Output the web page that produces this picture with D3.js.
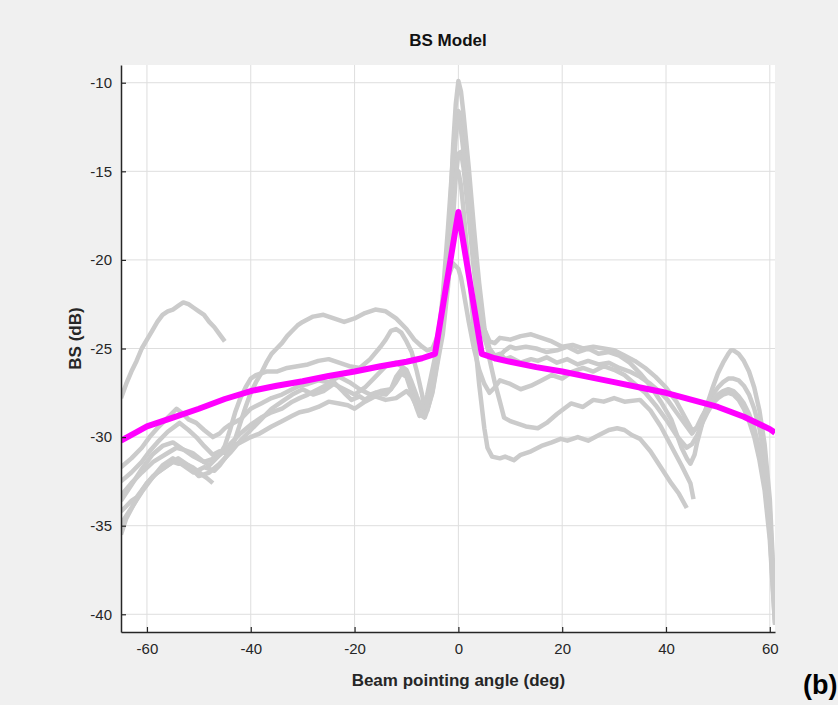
<!DOCTYPE html>
<html>
<head>
<meta charset="utf-8">
<script src="https://cdn.jsdelivr.net/npm/d3@7"></script>
<style>
  html, body { margin: 0; padding: 0; background: #f0f0f0; }
  svg { display: block; }
  .tick text { font-family: "Liberation Sans Narrow", "Liberation Sans", Arial, sans-serif; font-size: 15px; fill: #262626; }
</style>
</head>
<body>
<svg id="chart" width="838" height="705"></svg>
<script>
// ---- chart data -------------------------------------------------------------
const title = "BS Model";
const xLabel = "Beam pointing angle (deg)";
const yLabel = "BS (dB)";
const panelTag = "(b)";

const xTicks = [-60, -40, -20, 0, 20, 40, 60];
const yTicks = [-40, -35, -30, -25, -20, -15, -10];
const xDomain = [-65, 61];
const yDomain = [-41, -9];

// Backscatter model curve (angle in deg, BS in dB)
const modelAngle = [-65, -60, -55, -50, -45, -40, -35, -30, -25, -20, -15, -10, -7, -4.5, 0, 4.5, 7, 10, 15, 20, 25, 30, 35, 40, 45, 50, 55, 60, 61];
const modelBS = [-30.2, -29.4, -28.9, -28.4, -27.85, -27.4, -27.1, -26.85, -26.55, -26.3, -26.0, -25.75, -25.55, -25.3, -17.3, -25.3, -25.55, -25.75, -26.05, -26.3, -26.6, -26.9, -27.2, -27.5, -27.9, -28.3, -28.85, -29.55, -29.75];

// Measured backscatter swaths: [angle, BS]
const swathA = [[-65,-27.8],[-64,-27.0],[-63,-26.3],[-62,-25.7],[-61,-25.0],[-60,-24.5],[-59,-24.0],[-58,-23.5],[-57,-23.1],[-56,-22.9],[-55,-22.8],[-54,-22.6],[-53,-22.4],[-52,-22.5],[-51,-22.7],[-50,-22.9],[-49,-23.1],[-48,-23.5],[-47,-23.8],[-46,-24.2],[-45,-24.6]];

const swathL = [[-65,-34.2],[-64,-33.9],[-63,-33.6],[-62,-33.4],[-61,-33.0],[-60,-32.6],[-58.8,-32.2],[-57,-31.8],[-56,-31.6],[-55,-31.4],[-54,-31.5],[-53,-31.5],[-52,-31.6],[-51.2,-31.7],[-50.3,-31.9],[-49.5,-32.1],[-48.5,-32.3],[-47.3,-32.6]];

const swathB = [[-65,-34.9],[-63,-34.0],[-61,-33.1],[-59,-32.3],[-57,-31.6],[-55,-31.2],[-53,-31.6],[-51,-32.0],[-49,-31.7],[-47,-31.9],[-46,-31.6],[-45,-31.2],[-44,-30.8],[-43,-30.1],[-42,-29.2],[-41,-28.3],[-40,-27.5],[-39,-26.9],[-38,-26.4],[-37,-25.8],[-36,-25.3],[-35,-25.0],[-34,-24.7],[-33,-24.3],[-32,-24.0],[-31,-23.7],[-30,-23.5],[-28,-23.2],[-26,-23.1],[-24,-23.3],[-22,-23.5],[-20,-23.3],[-18,-23.0],[-16,-22.8],[-14,-22.9],[-12,-23.3],[-10,-23.9],[-8.5,-24.5],[-7,-24.9],[-6,-25.1],[-5,-25.0],[-4,-24.3],[-3,-22.5],[-2,-19.5],[-1,-15.5],[-0.5,-13.0],[0,-11.6],[0.5,-11.9],[1,-13.0],[1.5,-14.6],[2,-16.3],[3,-19.8],[4,-22.4],[5,-23.9],[6,-24.6],[7,-24.7],[8,-24.4],[10,-24.5],[12,-24.3],[14,-24.2],[16,-24.4],[18,-24.6],[20,-24.9],[22,-24.8],[24,-25.0],[26,-24.9],[28,-25.0],[30,-25.1],[32,-25.4],[34,-25.7],[36,-26.1],[38,-26.6],[40,-27.2],[42,-28.0],[43.5,-28.8],[45,-29.6],[46,-29.5],[47,-28.9],[48,-28.2],[49,-27.6],[50,-27.2],[51,-26.9],[52,-26.7],[53,-26.7],[54,-26.8],[55,-27.1],[56,-27.6],[57,-28.4],[58,-29.5],[59,-31.3],[60,-34.2],[60.5,-37.0],[61,-40.3]];

const swathC = [[-65,-33.6],[-63,-32.7],[-61,-31.8],[-59,-31.0],[-57,-30.5],[-55,-30.3],[-53,-30.7],[-51,-31.1],[-49,-31.4],[-47,-31.2],[-46,-31.0],[-45,-30.5],[-44,-29.6],[-43,-28.6],[-42,-27.8],[-41,-27.2],[-40,-26.7],[-39,-26.5],[-37,-26.3],[-35,-26.3],[-33,-26.1],[-31,-26.0],[-29,-25.9],[-27,-25.7],[-25,-25.6],[-23,-25.8],[-21,-26.0],[-19,-26.1],[-17,-25.6],[-15,-24.9],[-14,-24.5],[-13,-24.0],[-12,-23.9],[-11,-24.1],[-10,-24.6],[-9,-25.2],[-8,-26.3],[-7,-27.6],[-6.5,-28.4],[-6,-28.5],[-5,-27.5],[-4,-25.8],[-3,-24.2],[-2,-21.5],[-1,-17.5],[-0.5,-15.3],[0,-14.0],[0.5,-13.9],[1,-14.8],[2,-17.6],[3,-20.6],[4,-22.9],[5,-24.4],[6,-25.3],[7,-25.6],[8,-25.4],[9,-25.1],[10,-24.9],[11,-25.0],[13,-24.9],[15,-25.0],[17,-25.2],[19,-25.1],[21,-24.9],[23,-25.2],[25,-25.0],[27,-25.3],[29,-25.2],[31,-25.4],[33,-25.8],[35,-26.4],[37,-27.1],[39,-28.0],[41,-29.0],[42,-29.8],[43,-30.6],[44,-31.2],[44.7,-31.5],[45.5,-31.0],[46,-30.3],[47,-29.2],[48,-28.1],[49,-27.2],[50,-26.4],[51,-25.8],[52,-25.3],[52.5,-25.1],[53,-25.1],[54,-25.3],[55,-25.7],[56,-26.3],[57,-27.2],[58,-28.5],[59,-30.4],[60,-33.5],[60.5,-36.5],[61,-39.8]];

const swathD = [[-65,-31.7],[-63,-31.2],[-61,-30.6],[-59.5,-30.0],[-58,-29.5],[-56,-28.9],[-54.3,-28.4],[-53,-28.7],[-52,-29.0],[-50.5,-29.2],[-49,-29.6],[-47.3,-30.0],[-46,-29.8],[-45,-29.5],[-44,-29.3],[-42,-29.0],[-40,-28.4],[-38,-28.1],[-36,-27.8],[-34,-27.6],[-32,-27.3],[-30.6,-27.1],[-29,-27.0],[-27,-26.8],[-25,-26.9],[-23,-26.6],[-21,-26.9],[-19,-27.3],[-17,-27.6],[-15,-27.4],[-13,-27.3],[-12,-26.6],[-11,-26.2],[-10,-26.4],[-9,-27.2],[-8,-28.1],[-7,-28.6],[-6,-28.3],[-5,-27.0],[-4,-25.2],[-3,-23.0],[-2,-19.8],[-1.4,-16.0],[-1,-13.5],[-0.5,-11.2],[0,-9.9],[0.5,-10.5],[1,-11.8],[1.5,-13.3],[2,-14.8],[2.5,-16.5],[3,-18.2],[3.5,-19.8],[4,-21.3],[5,-23.8],[6,-25.6],[7,-26.9],[8,-28.0],[8.8,-28.9],[10,-29.1],[11,-29.2],[13,-29.4],[15.3,-29.5],[17,-29.2],[19,-28.7],[21.7,-28.1],[24,-28.3],[26,-27.9],[28,-28.0],[30,-27.8],[32,-28.0],[35,-27.9],[37,-28.5],[39,-29.4],[41,-30.5],[43,-31.6],[44.7,-32.6],[45.3,-33.5]];

const swathE = [[-65,-32.5],[-63,-32.0],[-61,-31.4],[-59.5,-30.8],[-58,-30.3],[-56,-29.7],[-53.7,-29.2],[-52,-29.6],[-50.5,-30.0],[-49,-30.5],[-47.3,-31.0],[-46,-30.8],[-45,-30.9],[-44,-30.4],[-42,-29.8],[-40,-29.3],[-38,-28.9],[-36,-28.6],[-34,-28.4],[-32,-28.0],[-30.6,-27.8],[-29,-27.6],[-27,-27.3],[-25,-27.0],[-24,-26.9],[-22,-27.5],[-20.6,-27.9],[-19,-27.7],[-18,-27.9],[-16,-27.5],[-14,-27.6],[-13,-27.3],[-12,-26.9],[-11,-26.4],[-10,-26.6],[-9,-27.5],[-8,-28.4],[-7.5,-28.8],[-7,-28.6],[-6,-27.6],[-5,-26.2],[-4,-24.8],[-3,-22.9],[-2,-21.0],[-1,-20.2],[0,-20.5],[0.5,-21.0],[1,-21.8],[2,-23.5],[3,-25.0],[4,-26.2],[5,-27.0],[6,-27.5],[7,-27.2],[8,-26.8],[10,-27.0],[12,-27.3],[14,-27.1],[16,-26.8],[18,-26.5],[20,-26.7],[22,-26.3],[24,-26.1],[26,-26.3],[28,-26.0],[30,-26.2],[32,-26.5],[34,-27.0],[36,-27.5],[38,-28.2],[40,-29.0],[42,-29.9],[44,-30.6],[45,-30.4],[46,-29.9],[47,-29.2],[48,-28.6],[49,-28.1],[50,-27.8],[51,-27.6],[52,-27.5],[53,-27.6],[54,-27.9],[55,-28.4],[56,-29.1],[57,-30.0],[58,-31.3],[59,-33.0],[60,-35.8],[60.5,-38.2],[61,-40.6]];

const swathF = [[-65,-33.3],[-63,-32.6],[-61,-32.0],[-58.8,-31.4],[-56,-30.9],[-54.3,-30.6],[-53,-30.7],[-51.2,-30.9],[-49.5,-31.3],[-48,-31.6],[-47,-31.3],[-46,-31.0],[-44,-30.6],[-42,-30.3],[-40,-30.0],[-38.3,-29.8],[-36,-29.4],[-34,-29.1],[-32,-28.8],[-30.6,-28.6],[-29,-28.5],[-27,-28.3],[-25,-28.0],[-23,-28.1],[-21.3,-28.2],[-20,-28.4],[-18,-28.0],[-16,-27.7],[-14,-27.9],[-12,-27.8],[-10,-27.4],[-9,-27.7],[-8,-28.3],[-7,-28.8],[-6.5,-28.9],[-6,-28.5],[-5,-27.4],[-4,-25.6],[-3,-23.0],[-2,-19.5],[-1,-16.2],[-0.5,-15.1],[0,-15.0],[0.5,-15.8],[1,-17.2],[2,-20.6],[3,-24.0],[4,-27.0],[5,-29.5],[5.6,-30.6],[6.5,-31.1],[8,-31.2],[9,-31.1],[10.7,-31.3],[12,-31.0],[14,-30.8],[16,-30.5],[18,-30.3],[19.7,-30.1],[21,-30.2],[23,-30.0],[25,-30.2],[27,-29.9],[29,-29.6],[30.6,-29.5],[32,-29.6],[33.5,-29.9],[35,-30.1],[37,-30.8],[39,-31.7],[41,-32.6],[42.5,-33.2],[44,-34.0]];

const swathG = [[-65,-35.5],[-64,-34.6],[-62,-33.5],[-60,-32.6],[-58,-32.0],[-56,-31.6],[-54,-31.2],[-52,-31.6],[-50,-32.2],[-48,-32.0],[-46,-31.5],[-44,-30.9],[-42,-30.2],[-40,-29.6],[-38,-29.0],[-36,-28.4],[-34,-28.0],[-32,-27.6],[-30,-27.3],[-28,-27.6],[-26,-27.4],[-24,-27.0],[-22,-27.3],[-20,-27.6],[-18,-27.2],[-16,-26.6],[-14,-26.0],[-12,-25.8],[-10,-26.2],[-9,-26.9],[-8,-27.7],[-7,-28.4],[-6,-28.2],[-5,-26.8],[-4,-24.8],[-3,-22.0],[-2,-18.2],[-1,-14.0],[-0.5,-12.6],[0,-12.2],[0.5,-12.7],[1,-13.9],[2,-17.0],[3,-20.0],[4,-22.4],[5,-24.0],[6,-25.0],[7,-25.4],[8,-25.3],[9,-25.6],[10,-25.5],[12,-25.8],[14,-25.6],[15.3,-25.7],[17,-25.5],[19,-25.8],[21,-25.6],[23,-25.9],[25,-25.7],[27,-25.9],[29,-25.8],[31,-26.1],[33,-26.3],[35,-26.6],[37,-27.0],[39,-27.5],[40.3,-27.9],[42,-28.6],[43.5,-29.2],[45,-29.8],[46,-29.4],[47,-28.8],[48,-28.3],[49,-27.9],[50,-27.6],[51,-27.4],[52,-27.3],[53,-27.4],[54,-27.7],[55,-28.1],[56,-28.7],[57,-29.5],[58,-30.7],[59,-32.5],[60,-35.4],[60.5,-38.0],[61,-40.5]];

const swaths = [swathA, swathL, swathB, swathC, swathD, swathE, swathF, swathG];

// ---- layout -----------------------------------------------------------------
const plot = { left: 121, right: 775, top: 65, bottom: 632 };
const svg = d3.select("#chart");

const x = d3.scaleLinear().domain(xDomain).range([plot.left, plot.right]);
const y = d3.scaleLinear().domain(yDomain).range([plot.bottom, plot.top]);

// plot background
svg.append("rect")
  .attr("x", plot.left).attr("y", plot.top)
  .attr("width", plot.right - plot.left).attr("height", plot.bottom - plot.top)
  .attr("fill", "#ffffff");

// grid
const grid = svg.append("g").attr("stroke", "#dedede").attr("stroke-width", 1);
grid.selectAll("line.gx").data(xTicks).join("line")
  .attr("x1", d => x(d)).attr("x2", d => x(d))
  .attr("y1", plot.top).attr("y2", plot.bottom);
grid.selectAll("line.gy").data(yTicks).join("line")
  .attr("x1", plot.left).attr("x2", plot.right)
  .attr("y1", d => y(d)).attr("y2", d => y(d));

// clip for data lines
svg.append("clipPath").attr("id", "plotClip")
  .append("rect")
  .attr("x", plot.left).attr("y", plot.top)
  .attr("width", plot.right - plot.left).attr("height", plot.bottom - plot.top);

const line = d3.line().x(d => x(d[0])).y(d => y(d[1]));
const dataLayer = svg.append("g").attr("clip-path", "url(#plotClip)");

dataLayer.selectAll("path.swath").data(swaths).join("path")
  .attr("class", "swath")
  .attr("d", line)
  .attr("fill", "none")
  .attr("stroke", "#cbcbcb")
  .attr("stroke-width", 4.5)
  .attr("stroke-linejoin", "round")
  .attr("stroke-linecap", "butt");

const modelPts = modelAngle.map((a, i) => [a, modelBS[i]]);
dataLayer.append("path")
  .datum(modelPts)
  .attr("d", line)
  .attr("fill", "none")
  .attr("stroke", "#ff00ff")
  .attr("stroke-width", 6)
  .attr("stroke-linejoin", "round");

// axes (plain hyphen-minus labels)
const plainFmt = d => String(d);
const xAxis = d3.axisBottom(x).tickValues(xTicks).tickFormat(plainFmt).tickSizeInner(-5).tickSizeOuter(0).tickPadding(11);
const yAxis = d3.axisLeft(y).tickValues(yTicks).tickFormat(plainFmt).tickSizeInner(-5).tickSizeOuter(0).tickPadding(9);

const gx = svg.append("g").attr("transform", `translate(0,${plot.bottom})`).call(xAxis);
const gy = svg.append("g").attr("transform", `translate(${plot.left},0)`).call(yAxis);
[gx, gy].forEach(g => {
  g.select(".domain").attr("stroke", "#262626").attr("stroke-width", 1.5);
  g.selectAll(".tick line").attr("stroke", "#262626").attr("stroke-width", 1.2);
});

// titles
svg.append("text")
  .attr("x", (plot.left + plot.right) / 2).attr("y", 46)
  .attr("text-anchor", "middle")
  .attr("font-family", "'Liberation Sans Narrow', 'Liberation Sans', Arial, sans-serif")
  .attr("font-weight", "bold").attr("font-size", 17).attr("fill", "#111")
  .text(title);

svg.append("text")
  .attr("x", x(0)).attr("y", 686)
  .attr("text-anchor", "middle")
  .attr("font-family", "'Liberation Sans', Arial, sans-serif")
  .attr("font-weight", "bold").attr("font-size", 17).attr("fill", "#262626")
  .text(xLabel);

svg.append("text")
  .attr("transform", `translate(81,${(plot.top + plot.bottom) / 2 - 10}) rotate(-90)`)
  .attr("text-anchor", "middle")
  .attr("font-family", "'Liberation Sans', Arial, sans-serif")
  .attr("font-weight", "bold").attr("font-size", 17).attr("fill", "#262626")
  .text(yLabel);

svg.append("text")
  .attr("x", 803).attr("y", 694)
  .attr("font-family", "'Liberation Sans Narrow', 'Liberation Sans', Arial, sans-serif")
  .attr("font-weight", "bold").attr("font-size", 27).attr("fill", "#000")
  .text(panelTag);
</script>
</body>
</html>
